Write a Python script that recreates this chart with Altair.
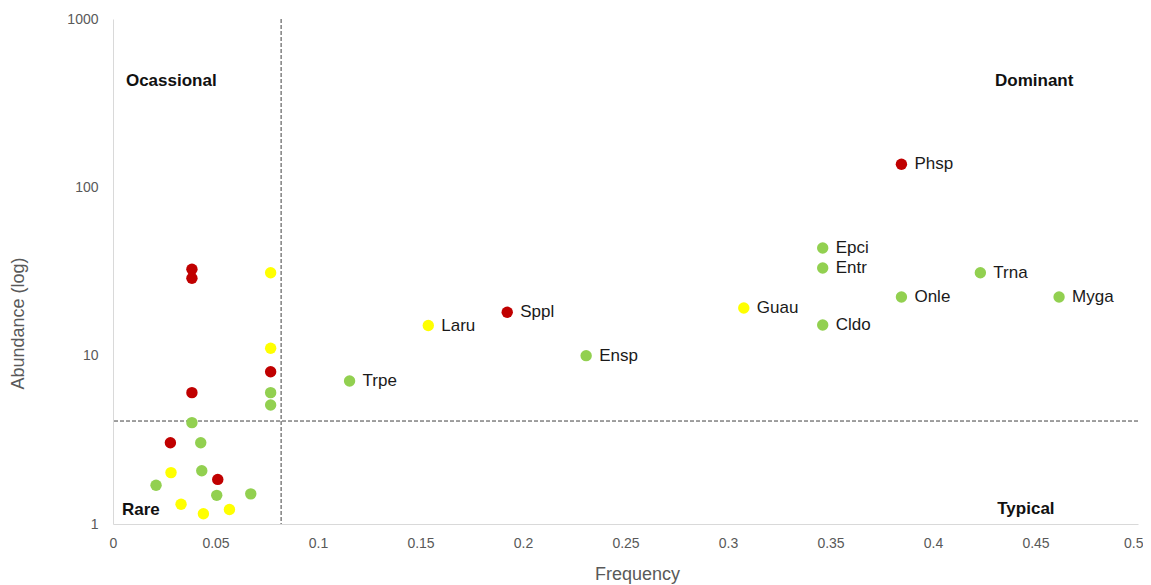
import altair as alt
import pandas as pd

# ---- data ----
freq = [0.3846, 0.3462, 0.3462, 0.4231, 0.3846, 0.4615, 0.3077, 0.3462, 0.1923, 0.1538, 0.2308, 0.1154,
        0.0385, 0.0385, 0.0769, 0.0769, 0.0769, 0.0385, 0.0769, 0.0769, 0.0385, 0.028, 0.0428, 0.0433,
        0.0283, 0.0511, 0.021, 0.0506, 0.0672, 0.0332, 0.0441, 0.0568]
abund = [137, 43.6, 33.2, 31.1, 22.3, 22.3, 19.2, 15.2, 18.1, 15.1, 10.0, 7.07,
         32.6, 28.8, 31.1, 11.06, 8.03, 6.03, 6.03, 5.09, 4.0, 3.04, 3.04, 2.07,
         2.02, 1.84, 1.70, 1.48, 1.51, 1.31, 1.15, 1.22]
group = ["red", "green", "green", "green", "green", "green", "yellow", "green", "red", "yellow", "green", "green",
         "red", "red", "yellow", "yellow", "red", "red", "green", "green", "green", "red", "green", "green",
         "yellow", "red", "green", "green", "green", "yellow", "yellow", "yellow"]
label = ["Phsp", "Epci", "Entr", "Trna", "Onle", "Myga", "Guau", "Cldo", "Sppl", "Laru", "Ensp", "Trpe",
         "", "", "", "", "", "", "", "", "", "", "", "",
         "", "", "", "", "", "", "", ""]

freq_threshold = [0.082]
abund_threshold = [4.09]

quad_left_text = ["Ocassional", "Rare"]
quad_left_x = [0.0063, 0.0044]
quad_left_y = [428, 1.21]
quad_right_text = ["Dominant", "Typical"]
quad_right_x = [0.4685, 0.4593]
quad_right_y = [428, 1.22]

x_ticks = [0, 0.05, 0.1, 0.15, 0.2, 0.25, 0.3, 0.35, 0.4, 0.45, 0.5]
y_ticks = [1, 10, 100, 1000]

df = pd.DataFrame({"freq": freq, "abund": abund, "group": group, "label": label})
vdf = pd.DataFrame({"freq": freq_threshold})
hdf = pd.DataFrame({"abund": abund_threshold})
qldf = pd.DataFrame({"t": quad_left_text, "freq": quad_left_x, "abund": quad_left_y})
qrdf = pd.DataFrame({"t": quad_right_text, "freq": quad_right_x, "abund": quad_right_y})

W, H = 1025, 505
FONT = "Liberation Sans"

xscale = alt.Scale(domain=[0, 0.5], nice=False, zero=False)
yscale = alt.Scale(type="log", domain=[1, 1000], nice=False)

xaxis = alt.Axis(values=x_ticks, format=".2~f", title="Frequency", grid=False, ticks=False,
                 domainColor="#D9D9D9", labelColor="#595959", labelFontSize=14, labelFont=FONT,
                 labelPadding=12, titleFont=FONT, titleFontSize=18, titleFontWeight="normal",
                 titleColor="#595959", titleX=524, titleY=55, titleAnchor="middle", titleAlign="center",
                 titleBaseline="alphabetic", labelFlush=False, labelOverlap=False,
                 labelAlign=alt.condition("datum.value >= 0.5", alt.value("right"), alt.value("center")),
                 labelOffset=alt.condition("datum.value >= 0.5", alt.value(5), alt.value(0)))
yaxis = alt.Axis(values=y_ticks, format="d", title="Abundance (log)", grid=False, ticks=False,
                 domainColor="#D9D9D9", labelColor="#595959", labelFontSize=14, labelFont=FONT,
                 labelPadding=15, titleFont=FONT, titleFontSize=18, titleFontWeight="normal",
                 titleColor="#595959", titleX=-95, titleY=304, titleAngle=-90, titleAlign="center",
                 titleBaseline="middle", labelFlush=False, labelOverlap=False)

color = alt.Color("group:N", scale=alt.Scale(domain=["green", "yellow", "red"],
                                            range=["#92D050", "#FFFF00", "#C00000"]), legend=None)

points = alt.Chart(df).mark_circle(size=130, opacity=1).encode(
    x=alt.X("freq:Q", scale=xscale, axis=xaxis),
    y=alt.Y("abund:Q", scale=yscale, axis=yaxis),
    color=color,
)

labels = alt.Chart(df).mark_text(align="left", baseline="middle", dx=13, fontSize=17, font=FONT,
                                 color="#1a1a1a").encode(
    x=alt.X("freq:Q", scale=xscale),
    y=alt.Y("abund:Q", scale=yscale),
    text="label:N",
)

vrule = alt.Chart(vdf).mark_rule(color="#404040", strokeDash=[4, 2], strokeWidth=1).encode(
    x=alt.X("freq:Q", scale=xscale))
hrule = alt.Chart(hdf).mark_rule(color="#404040", strokeDash=[4, 2], strokeWidth=1).encode(
    y=alt.Y("abund:Q", scale=yscale))

qleft = alt.Chart(qldf).mark_text(align="left", baseline="middle", fontSize=17, fontWeight="bold",
                                  font=FONT, color="#111111").encode(
    x=alt.X("freq:Q", scale=xscale), y=alt.Y("abund:Q", scale=yscale), text="t:N")
qright = alt.Chart(qrdf).mark_text(align="right", baseline="middle", fontSize=17, fontWeight="bold",
                                   font=FONT, color="#111111").encode(
    x=alt.X("freq:Q", scale=xscale), y=alt.Y("abund:Q", scale=yscale), text="t:N")

chart = alt.layer(vrule, hrule, points, labels, qleft, qright).properties(
    width=W, height=H,
    background="white",
    autosize=alt.AutoSizeParams(type="none"),
    padding={"left": 105, "top": 11, "right": 5, "bottom": 60},
).configure_view(stroke="transparent", strokeWidth=0)

chart.save("out.html", embed_options={"renderer": "svg", "actions": False})
